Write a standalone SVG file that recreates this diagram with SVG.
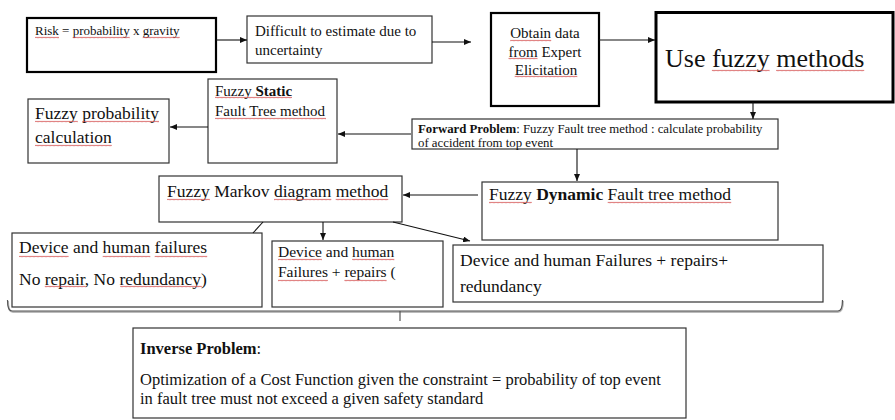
<svg xmlns="http://www.w3.org/2000/svg" width="895" height="420" viewBox="0 0 895 420">
<style>
text{font-family:"Liberation Serif","Times New Roman",serif;fill:#111}
.b{fill:#fff;stroke:#333;stroke-width:1.2}
.bk{fill:#fff;stroke:#000;stroke-width:2.2}
.bold{font-weight:bold}
.w{fill:url(#wv)}
.c{fill:none;stroke:#111;stroke-width:1.1}
</style>
<defs>
<marker id="ah" markerWidth="7" markerHeight="6" refX="7" refY="3" orient="auto" markerUnits="userSpaceOnUse">
<path d="M0,0 L7,3 L0,6 z" fill="#111"/>
</marker>
<pattern id="wv" width="4" height="3" patternUnits="userSpaceOnUse">
<path d="M0,2.2 L1,0.9 L2,2.2 L3,0.9 L4,2.2" fill="none" stroke="#d24a4a" stroke-width="0.7"/>
</pattern>
</defs>

<g id="risk">
<rect class="bk" x="27" y="18" width="189" height="54"/>
<text x="35" y="35" font-size="13">Risk = probability x gravity</text>
<rect class="w" x="35" y="36" width="24" height="3"/>
<rect class="w" x="72.7" y="36" width="57" height="3"/>
<rect class="w" x="142.7" y="36" width="37" height="3"/>
</g>
<g id="difficult">
<rect class="b" x="247" y="16" width="185" height="47"/>
<text x="255" y="36" font-size="15">Difficult to estimate due to</text>
<text x="255" y="55" font-size="15">uncertainty</text>
</g>
<g id="obtain">
<rect class="bk" x="491" y="13" width="108" height="93"/>
<text x="545" y="38" font-size="15" text-anchor="middle">Obtain data</text>
<text x="545" y="57" font-size="15" text-anchor="middle">from Expert</text>
<text x="546" y="75" font-size="15" text-anchor="middle">Elicitation</text>
<rect class="w" x="510.2" y="39" width="41" height="3"/>
<rect class="w" x="508.5" y="57" width="29" height="3"/>
<rect class="w" x="514.7" y="75" width="62.6" height="3"/>
</g>
<g id="fuzzy-methods">
<rect x="656" y="12.5" width="237" height="89.5" fill="#fff" stroke="#000" stroke-width="3"/>
<text x="665" y="67" font-size="26">Use fuzzy methods</text>
<rect class="w" x="711.9" y="69" width="57.7" height="3"/>
<rect class="w" x="776.1" y="69" width="88.1" height="3"/>
</g>
<g id="static">
<rect class="b" x="208" y="79" width="129" height="84"/>
<text x="215" y="96" font-size="15">Fuzzy <tspan class="bold">Static</tspan></text>
<text x="215" y="116" font-size="15">Fault Tree method</text>
<rect class="w" x="215" y="96" width="77" height="3"/>
<rect class="w" x="215" y="117" width="111" height="3"/>
</g>
<g id="probability">
<rect class="b" x="28" y="99" width="141" height="64"/>
<text x="35" y="119" font-size="17.5">Fuzzy probability</text>
<text x="35" y="143" font-size="17.5">calculation</text>
<rect class="w" x="35" y="120" width="42.8" height="3"/>
<rect class="w" x="82.2" y="120" width="76.8" height="3"/>
<rect class="w" x="35" y="144" width="76.8" height="3"/>
</g>
<g id="forward">
<rect class="b" x="412" y="119" width="366" height="30"/>
<text x="418" y="132.5" font-size="12.8"><tspan class="bold">Forward Problem</tspan>: Fuzzy Fault tree method : calculate probability</text>
<text x="418" y="146.5" font-size="12.8">of accident from top event</text>
</g>
<g id="markov">
<rect class="b" x="159" y="176" width="243" height="46"/>
<text x="167" y="197" font-size="17.5">Fuzzy Markov diagram method</text>
<rect class="w" x="167" y="198" width="42.8" height="3"/>
<rect class="w" x="274" y="198" width="57.3" height="3"/>
<rect class="w" x="335.7" y="198" width="52.5" height="3"/>
</g>
<g id="dynamic">
<rect class="b" x="482" y="182" width="296" height="58"/>
<text x="489" y="200" font-size="17.5">Fuzzy <tspan class="bold">Dynamic</tspan> Fault tree method</text>
<rect class="w" x="489" y="201" width="42.8" height="3"/>
<rect class="w" x="607.7" y="201" width="123.5" height="3"/>
</g>
<g id="device1">
<rect class="b" x="12" y="233" width="250" height="74"/>
<text x="19" y="253" font-size="17.5">Device and human failures</text>
<text x="19" y="285" font-size="17.5">No repair, No redundancy)</text>
<rect class="w" x="19" y="255" width="49.6" height="3"/>
<rect class="w" x="102.7" y="255" width="47.6" height="3"/>
<rect class="w" x="154.7" y="255" width="52.5" height="3"/>
<rect class="w" x="44.8" y="285" width="40.8" height="3"/>
<rect class="w" x="120.2" y="285" width="81.6" height="3"/>
</g>
<g id="device2">
<rect class="b" x="272" y="241" width="171" height="66"/>
<text x="278" y="257" font-size="15.5">Device and human</text>
<text x="278" y="277" font-size="15.5">Failures + repairs (</text>
<rect class="w" x="278" y="258" width="43.9" height="3"/>
<rect class="w" x="352.1" y="258" width="42.2" height="3"/>
<rect class="w" x="278" y="279" width="49.9" height="3"/>
<rect class="w" x="344.4" y="279" width="42.2" height="3"/>
</g>
<g id="device3">
<rect class="b" x="453" y="245" width="370" height="57"/>
<text x="460" y="266" font-size="17.5">Device and human Failures + repairs+</text>
<text x="460" y="292" font-size="17.5">redundancy</text>
</g>
<g id="inverse">
<rect class="b" x="133" y="328" width="553" height="90"/>
<text x="140" y="354" font-size="16.5"><tspan class="bold">Inverse Problem</tspan>:</text>
<text x="140" y="385" font-size="16.5">Optimization of a Cost Function given the constraint = probability of top event</text>
<text x="140" y="404" font-size="16.5">in fault tree must not exceed a given safety standard</text>
</g>

<g id="connectors">
<path class="c" d="M216,40 H247" marker-end="url(#ah)"/>
<path class="c" d="M432,42 H471" marker-end="url(#ah)"/>
<path class="c" d="M599,40 H655" marker-end="url(#ah)"/>
<path class="c" d="M753,102 V119" marker-end="url(#ah)"/>
<path class="c" d="M411,134 H338" marker-end="url(#ah)"/>
<path class="c" d="M208,127 H170" marker-end="url(#ah)"/>
<path class="c" d="M577,149 V181" marker-end="url(#ah)"/>
<path class="c" d="M478,195 H403" marker-end="url(#ah)"/>
<path class="c" d="M263,222 L253,233"/>
<path class="c" d="M323,222 V240" marker-end="url(#ah)"/>
<path class="c" d="M393,222 L470,241" marker-end="url(#ah)"/>
<path d="M8,301 Q8,312 13,312 L838,312 Q843,312 843,301" fill="none" stroke="#bbb" stroke-width="2"/>
<path d="M7.5,300 Q7.5,311 12,311 L838,311 Q842.5,311 842.5,300" fill="none" stroke="#555" stroke-width="1.2"/>
<path d="M400,311 V321" fill="none" stroke="#555" stroke-width="1.2"/>
</g>
</svg>
